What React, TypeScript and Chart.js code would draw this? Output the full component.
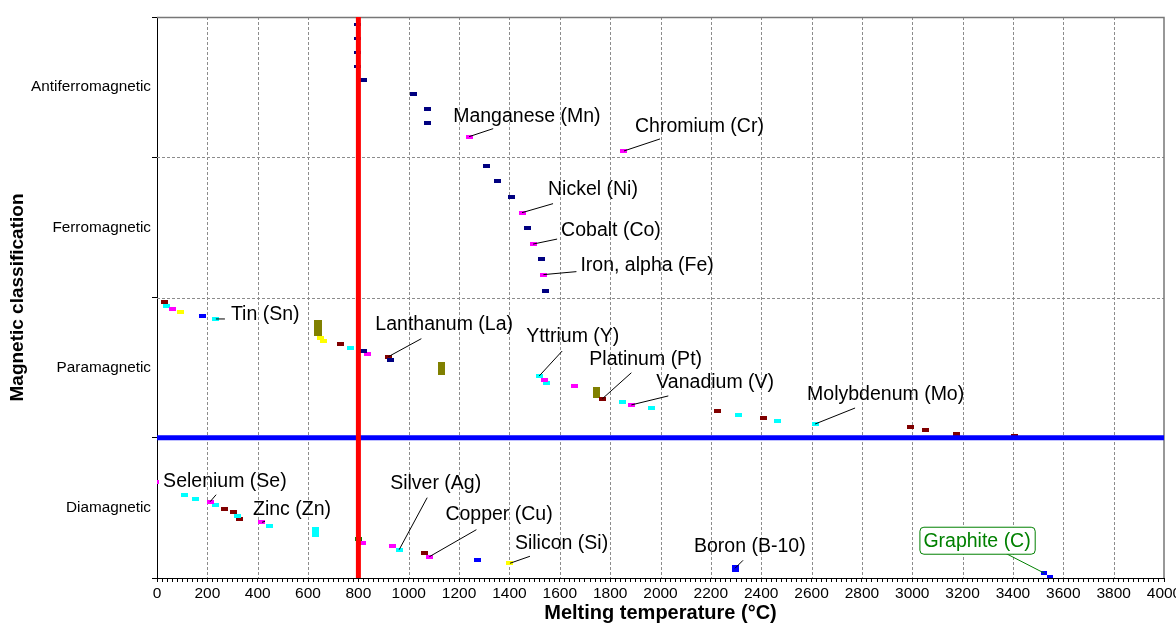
import { useEffect, useRef } from 'react';
import { Chart, registerables } from 'chart.js';

Chart.register(...registerables);

const FONT = 'Arial, "Liberation Sans", Helvetica, sans-serif';

// ---- categories / ticks ----
const categories = ['Diamagnetic', 'Paramagnetic', 'Ferromagnetic', 'Antiferromagnetic'];
const yTickValues = [0, 0.5, 1, 1.5, 2, 2.5, 3, 3.5, 4];
const xMajorTicks = [0, 200, 400, 600, 800, 1000, 1200, 1400, 1600, 1800, 2000, 2200, 2400, 2600, 2800, 3000, 3200, 3400, 3600, 3800, 4000];
const xMinorStep = 20;

// ---- series values (melting temperature °C, classification position) ----
const navyTemps = [795, 795, 795, 795, 820, 1017, 1075, 1075, 1310, 1353, 1409, 1473, 1528, 1543, 822, 928];
const navyClass = [3.95, 3.85, 3.75, 3.65, 3.55, 3.45, 3.346, 3.246, 2.938, 2.829, 2.717, 2.496, 2.272, 2.048, 1.619, 1.552];

const magentaTemps = [1240, 1855, 1450, 1494, 1535, 62, 838, 1541, 1658, 1884, -4, 211, 417, 817, 935, 1082];
const magentaClass = [3.147, 3.045, 2.605, 2.381, 2.163, 1.918, 1.6, 1.414, 1.371, 1.234, 0.687, 0.544, 0.397, 0.25, 0.226, 0.152];

const cyanTemps = [36, 234, 767, 1518, 1549, 1850, 1963, 2310, 2466, 2614, 111, 154, 232, 321, 448, 631, 962];
const cyanClass = [1.939, 1.847, 1.642, 1.44, 1.393, 1.257, 1.212, 1.162, 1.122, 1.098, 0.59, 0.565, 0.52, 0.444, 0.371, 0.328, 0.202];

const maroonTemps = [28, 727, 919, 1769, 2228, 2409, 2994, 3053, 3177, 3405, 270, 303, 327, 1061];
const maroonClass = [1.966, 1.668, 1.578, 1.278, 1.191, 1.143, 1.077, 1.053, 1.029, 1.012, 0.492, 0.471, 0.421, 0.178];

const yellowTemps = [95, 648, 661, 1402];
const yellowClass = [1.897, 1.711, 1.69, 0.105];

const blueTemps = [179, 1272, 2296, 3525, 3548];
const blueClass = [1.87, 0.128, 0.069, 0.034, 0.005];

const oliveTemps = [641, 1131, 1747];
const oliveClass = [1.783, 1.497, 1.326];

const greenTemps = [800];
const greenClass = [0.276];

const limitTemp = 800;
const limitClass = 1;

// ---- marker sizes (style) ----
const DEF: [number, number] = [7, 4];
const navySizes: [number, number][] = navyTemps.map((_, i) => (i < 4 ? [7, 3] : DEF));
const cyanSizes: [number, number][] = cyanTemps.map((_, i) => (i === 15 ? [7, 10] : DEF));
const blueSizes: [number, number][] = blueTemps.map((_, i) => (i === 2 ? [7, 7] : i >= 3 ? [6, 4] : DEF));
const oliveSizes: [number, number][] = [[8, 16], [7, 13], [7, 11]];

// ---- annotations (label offsets in px from the point) ----
const annotations = [
  { text: 'Manganese (Mn)', s: 'magenta', i: 0, dx: -16, dy: -20, lx: 24, ly: -8 },
  { text: 'Chromium (Cr)', s: 'magenta', i: 1, dx: 11, dy: -24, lx: 36, ly: -12 },
  { text: 'Nickel (Ni)', s: 'magenta', i: 2, dx: 26, dy: -23, lx: 31, ly: -9 },
  { text: 'Cobalt (Co)', s: 'magenta', i: 3, dx: 28, dy: -13, lx: 24, ly: -5 },
  { text: 'Iron, alpha (Fe)', s: 'magenta', i: 4, dx: 37, dy: -9, lx: 33, ly: -3 },
  { text: 'Tin (Sn)', s: 'cyan', i: 1, dx: 15, dy: -4, lx: 9, ly: 0 },
  { text: 'Lanthanum (La)', s: 'maroon', i: 2, dx: -13, dy: -32, lx: 33, ly: -18 },
  { text: 'Yttrium (Y)', s: 'cyan', i: 3, dx: -13, dy: -39, lx: 23, ly: -25 },
  { text: 'Platinum (Pt)', s: 'maroon', i: 3, dx: -13, dy: -39, lx: 29, ly: -26 },
  { text: 'Vanadium (V)', s: 'magenta', i: 9, dx: 25, dy: -22, lx: 37, ly: -9 },
  { text: 'Molybdenum (Mo)', s: 'cyan', i: 9, dx: -8, dy: -29, lx: 40, ly: -16 },
  { text: 'Selenium (Se)', s: 'magenta', i: 11, dx: -47, dy: -20, lx: 6, ly: -7 },
  { text: 'Zinc (Zn)', s: 'magenta', i: 12, dx: -9, dy: -13, lx: 3, ly: -1 },
  { text: 'Silver (Ag)', s: 'cyan', i: 16, dx: -9, dy: -66, lx: 28, ly: -52 },
  { text: 'Copper (Cu)', s: 'magenta', i: 15, dx: 16, dy: -42, lx: 47, ly: -27 },
  { text: 'Silicon (Si)', s: 'yellow', i: 3, dx: 5, dy: -20, lx: 20, ly: -7 },
  { text: 'Boron (B-10)', s: 'blue', i: 2, dx: -41, dy: -22, lx: 8, ly: -8 },
];
const graphiteNote = { text: 'Graphite (C)', s: 'blue', i: 3, dx: -121, dy: -33, lx: -39, ly: -20 };

const seriesMap: Record<string, { t: number[]; c: number[] }> = {
  navy: { t: navyTemps, c: navyClass },
  magenta: { t: magentaTemps, c: magentaClass },
  cyan: { t: cyanTemps, c: cyanClass },
  maroon: { t: maroonTemps, c: maroonClass },
  yellow: { t: yellowTemps, c: yellowClass },
  blue: { t: blueTemps, c: blueClass },
  olive: { t: oliveTemps, c: oliveClass },
  green: { t: greenTemps, c: greenClass },
};

function marker(color: string, w: number, h: number) {
  const c = document.createElement('canvas');
  c.width = w;
  c.height = h;
  const g = c.getContext('2d')!;
  g.fillStyle = color;
  g.fillRect(0, 0, w, h);
  return c;
}

function pts(t: number[], c: number[]) {
  return t.map((x, i) => ({ x, y: c[i] }));
}

function markerDataset(label: string, color: string, t: number[], c: number[], sizes?: [number, number][]) {
  const styles = t.map((_, i) => {
    const s = sizes ? sizes[i] : DEF;
    return marker(color, s[0], s[1]);
  });
  return {
    label,
    data: pts(t, c),
    showLine: false,
    pointStyle: styles,
    pointRadius: 4,
    borderWidth: 0,
    clip: 0,
    order: 2,
  };
}

const customPlugin = {
  id: 'custom',
  beforeDatasetsDraw(chart: any) {
    const { ctx, chartArea: a, scales } = chart;
    const x = scales.x;
    const y = scales.y;
    ctx.save();
    ctx.strokeStyle = '#8c8c8c';
    ctx.lineWidth = 1;
    ctx.setLineDash([3, 2]);
    for (const v of xMajorTicks) {
      if (v === 0 || v === 4000) continue;
      const px = Math.round(x.getPixelForValue(v)) + 0.5;
      ctx.beginPath();
      ctx.moveTo(px, a.top);
      ctx.lineTo(px, a.bottom);
      ctx.stroke();
    }
    for (let c = 1; c < categories.length; c++) {
      const py = Math.round(y.getPixelForValue(c)) + 0.5;
      ctx.beginPath();
      ctx.moveTo(a.left, py);
      ctx.lineTo(a.right, py);
      ctx.stroke();
    }
    ctx.setLineDash([]);
    ctx.strokeStyle = '#777777';
    ctx.lineWidth = 1.5;
    ctx.beginPath();
    ctx.moveTo(a.left, a.top + 0.5);
    ctx.lineTo(a.right, a.top + 0.5);
    ctx.lineTo(a.right, a.bottom);
    ctx.stroke();
    ctx.restore();
  },
  afterDatasetsDraw(chart: any) {
    const { ctx, scales } = chart;
    const x = scales.x;
    const y = scales.y;
    ctx.save();
    ctx.font = `19.5px ${FONT}`;
    ctx.textBaseline = 'middle';
    ctx.textAlign = 'left';
    const pos = (s: string, i: number) => {
      const ser = seriesMap[s];
      return [x.getPixelForValue(ser.t[i]), y.getPixelForValue(ser.c[i])];
    };
    for (const an of annotations) {
      const [px, py] = pos(an.s, an.i);
      ctx.strokeStyle = '#000';
      ctx.lineWidth = 1;
      ctx.beginPath();
      ctx.moveTo(px + an.lx, py + an.ly);
      ctx.lineTo(px, py);
      ctx.stroke();
      ctx.fillStyle = '#000';
      ctx.fillText(an.text, px + an.dx, py + an.dy);
    }
    // Graphite boxed label
    const g = graphiteNote;
    const [gx, gy] = pos(g.s, g.i);
    ctx.strokeStyle = '#008000';
    ctx.lineWidth = 1;
    ctx.beginPath();
    ctx.moveTo(gx + g.lx, gy + g.ly);
    ctx.lineTo(gx, gy);
    ctx.stroke();
    const tw = ctx.measureText(g.text).width;
    const bx = gx + g.dx - 4;
    const by = gy + g.dy - 13.5;
    const bw = tw + 8;
    const bh = 27;
    ctx.fillStyle = '#ffffff';
    ctx.beginPath();
    ctx.roundRect(bx + 0.5, by + 0.5, bw, bh, 4);
    ctx.fill();
    ctx.stroke();
    ctx.fillStyle = '#008000';
    ctx.fillText(g.text, gx + g.dx, gy + g.dy + 1);
    ctx.restore();
  },
  afterDraw(chart: any) {
    const { ctx, chartArea: a } = chart;
    ctx.save();
    ctx.fillStyle = '#000';
    ctx.textAlign = 'center';
    ctx.textBaseline = 'middle';
    ctx.font = `bold 20px ${FONT}`;
    ctx.fillText('Melting temperature (°C)', (a.left + a.right) / 2, 613);
    ctx.translate(18, (a.top + a.bottom) / 2);
    ctx.rotate(-Math.PI / 2);
    ctx.font = `bold 19px ${FONT}`;
    ctx.fillText('Magnetic classification', 0, 0);
    ctx.restore();
  },
};

export default function App() {
  const ref = useRef<HTMLCanvasElement | null>(null);

  useEffect(() => {
    document.body.style.margin = '0';
    const canvas = ref.current;
    if (!canvas) return;

    const datasets: any[] = [
      {
        label: 'limit-temp',
        data: [
          { x: limitTemp, y: 0 },
          { x: limitTemp, y: 4 },
        ],
        showLine: true,
        borderColor: '#ff0000',
        borderWidth: 5,
        pointRadius: 0,
        order: 0,
        clip: false,
      },
      {
        label: 'limit-class',
        data: [
          { x: 0, y: limitClass },
          { x: 4000, y: limitClass },
        ],
        showLine: true,
        borderColor: '#0000ff',
        borderWidth: 5,
        pointRadius: 0,
        order: 0,
        clip: false,
      },
      markerDataset('navy', '#000080', navyTemps, navyClass, navySizes),
      markerDataset('magenta', '#ff00ff', magentaTemps, magentaClass),
      markerDataset('cyan', '#00ffff', cyanTemps, cyanClass, cyanSizes),
      markerDataset('maroon', '#800000', maroonTemps, maroonClass),
      markerDataset('yellow', '#ffff00', yellowTemps, yellowClass),
      markerDataset('blue', '#0000ff', blueTemps, blueClass, blueSizes),
      markerDataset('olive', '#808000', oliveTemps, oliveClass, oliveSizes),
      markerDataset('green', '#008000', greenTemps, greenClass),
    ];

    const chart = new Chart(canvas, {
      type: 'scatter',
      data: { datasets },
      plugins: [customPlugin],
      options: {
        responsive: false,
        devicePixelRatio: 1,
        animation: false,
        events: [],
        layout: { padding: { top: 17, right: 12, left: 0, bottom: 0 } },
        plugins: {
          legend: { display: false },
          tooltip: { enabled: false },
        },
        scales: {
          x: {
            type: 'linear',
            min: 0,
            max: 4000,
            afterBuildTicks: (scale: any) => {
              const t = [];
              for (let v = 0; v <= 4000; v += xMinorStep) t.push({ value: v });
              scale.ticks = t;
            },
            afterFit: (scale: any) => {
              scale.height = 47;
              scale.paddingLeft = 0;
              scale.paddingRight = 0;
            },
            ticks: {
              autoSkip: false,
              maxRotation: 0,
              minRotation: 0,
              padding: 2,
              color: '#000',
              font: { family: FONT, size: 15.5 },
              callback: (value: any) => (xMajorTicks.includes(Number(value)) ? String(value) : ''),
            },
            grid: {
              drawOnChartArea: false,
              drawTicks: true,
              tickLength: 4,
              tickColor: '#000',
            },
            border: { display: true, color: '#000', width: 1 },
          },
          y: {
            type: 'linear',
            min: 0,
            max: 4,
            afterBuildTicks: (scale: any) => {
              scale.ticks = yTickValues.map((v) => ({ value: v }));
            },
            afterFit: (scale: any) => {
              scale.width = 157;
              scale.paddingTop = 0;
              scale.paddingBottom = 0;
            },
            ticks: {
              autoSkip: false,
              padding: 1,
              color: '#000',
              font: { family: FONT, size: 15.3 },
              callback: (value: any) => {
                const v = Number(value);
                const f = v - Math.floor(v);
                return Math.abs(f - 0.5) < 1e-6 ? categories[Math.floor(v)] : '';
              },
            },
            grid: {
              drawOnChartArea: false,
              drawTicks: true,
              tickLength: 5,
              tickColor: (ctx: any) =>
                ctx.tick && Number.isInteger(ctx.tick.value) ? '#000' : 'rgba(0,0,0,0)',
            },
            border: { display: true, color: '#000', width: 1 },
          },
        },
      },
    } as any);

    return () => chart.destroy();
  }, []);

  return <canvas ref={ref} width={1176} height={625} style={{ display: 'block' }} />;
}
